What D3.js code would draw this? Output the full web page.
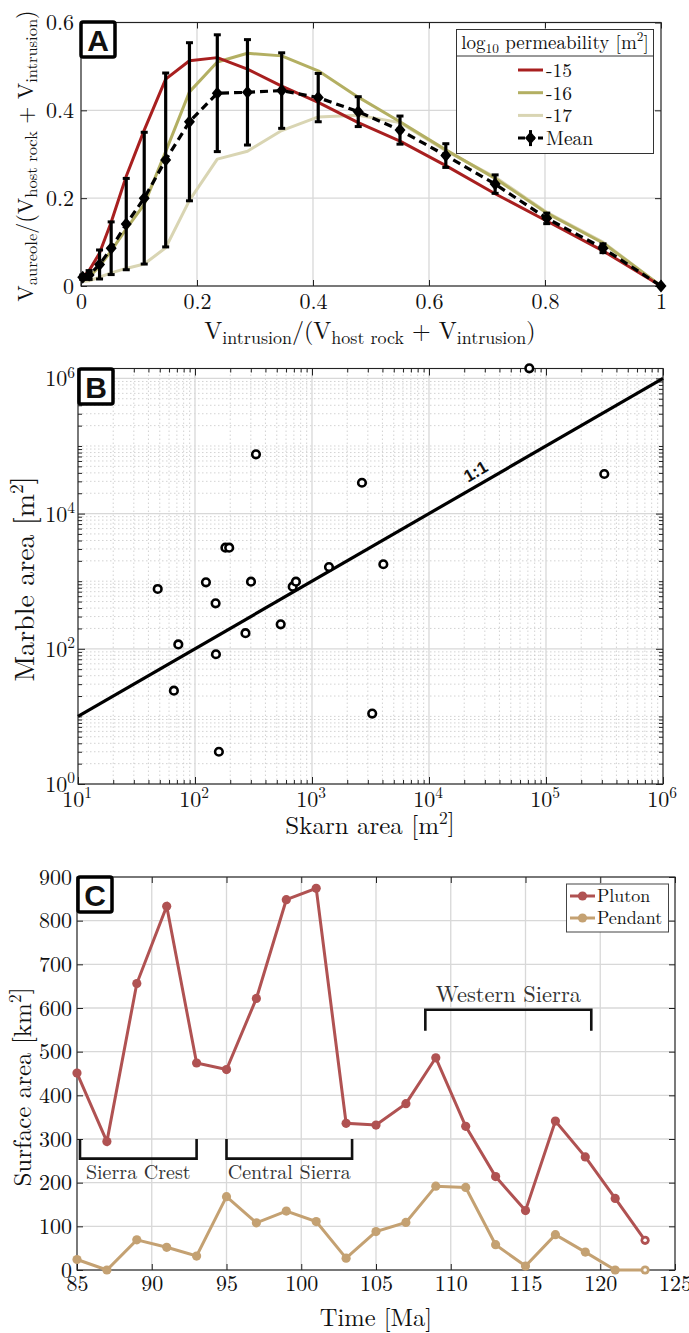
<!DOCTYPE html>
<html>
<head>
<meta charset="utf-8">
<script src="https://cdn.jsdelivr.net/npm/d3@7"></script>
<style>
body { margin: 0; background: #fff; }
svg text { font-family: "Latin Modern Roman", "Liberation Serif", serif; fill: #111; }
</style>
</head>
<body>
<svg id="fig" width="689" height="1333"></svg>
<script>
// ---- panel A data
var aX    = [0.003, 0.014, 0.032, 0.052, 0.078, 0.109, 0.146, 0.187, 0.235, 0.287, 0.346, 0.409, 0.478, 0.55, 0.629, 0.714, 0.803, 0.9, 1.0];
var aMean = [0.02, 0.025, 0.049, 0.086, 0.141, 0.2, 0.287, 0.374, 0.439, 0.441, 0.445, 0.429, 0.397, 0.355, 0.297, 0.232, 0.154, 0.086, 0.0];
var aErr  = [0.005, 0.01, 0.033, 0.06, 0.104, 0.15, 0.198, 0.18, 0.133, 0.12, 0.086, 0.055, 0.034, 0.032, 0.027, 0.021, 0.012, 0.01, 0];
var aK15  = [0.02, 0.035, 0.075, 0.145, 0.25, 0.355, 0.471, 0.513, 0.52, 0.494, 0.455, 0.418, 0.372, 0.33, 0.274, 0.21, 0.148, 0.08, 0];
var aK16  = [0.015, 0.02, 0.045, 0.08, 0.13, 0.186, 0.306, 0.442, 0.51, 0.53, 0.524, 0.49, 0.43, 0.374, 0.31, 0.245, 0.166, 0.098, 0];
var aK17  = [0.01, 0.012, 0.02, 0.03, 0.04, 0.05, 0.087, 0.195, 0.289, 0.307, 0.354, 0.385, 0.389, 0.372, 0.308, 0.248, 0.168, 0.1, 0];
var aLegend = ["-15", "-16", "-17", "Mean"];

// ---- panel B data
var bSkarn  = [48, 124, 150, 182, 196, 301, 332, 684, 729, 1397, 2673, 4070, 72000, 315000, 540, 270, 72, 151, 66, 3270, 160];
var bMarble = [767, 963, 471, 3130, 3130, 984, 75300, 830, 984, 1622, 28600, 1780, 1410000, 38500, 230, 170, 116, 83, 24, 11, 3];

// ---- panel C data
var cTime    = [85, 87, 89, 91, 93, 95, 97, 99, 101, 103, 105, 107, 109, 111, 113, 115, 117, 119, 121, 123];
var cPluton  = [451, 294, 656, 833, 474, 459, 622, 848, 874, 336, 332, 381, 486, 329, 214, 136, 341, 259, 164, 68];
var cPendant = [24, 0, 69, 52, 32, 168, 108, 135, 111, 27, 88, 109, 192, 189, 58, 9, 81, 41, 0, 0];
var cRanges  = [["Sierra Crest", 85.2, 93], ["Central Sierra", 95, 103.4], ["Western Sierra", 108.3, 119.4]];

var svg = d3.select("#fig");
var gridCol = "#d8d8d8";
var LM = "'Latin Modern Roman', 'Liberation Serif', serif";

function panelLabel(x0, y0, letter) {
  svg.append("rect").attr("x", x0).attr("y", y0).attr("width", 34).attr("height", 35).attr("rx", 2)
      .attr("fill", "#fff").attr("stroke", "#000").attr("stroke-width", 3.5);
  svg.append("text").attr("x", x0 + 17).attr("y", y0 + 28.5).attr("text-anchor", "middle")
      .style("font-family", "'Liberation Sans', Arial, sans-serif").style("font-weight", "bold")
      .style("font-size", "30px").text(letter);
}

// builds text from pieces [str, "sub"|"sup"|null, dy]
function richText(sel, parts, size, ratio) {
  ratio = ratio || 0.7;
  parts.forEach(function(p) {
    var t = sel.append("tspan").text(p[0]);
    if (p[1] == "sub") t.style("font-size", (size * ratio) + "px").attr("dy", size * 0.2);
    else if (p[1] == "sup") t.style("font-size", (size * 0.7) + "px").attr("dy", -size * 0.4);
    if (p[2]) t.attr("dy", p[2]);
  });
  return sel;
}

function frame(g, x0, x1, y0, y1) {
  g.append("rect").attr("x", x0).attr("y", y1).attr("width", x1 - x0).attr("height", y0 - y1)
      .attr("fill", "none").attr("stroke", "#222").attr("stroke-width", 1.1);
}

// =================== A ===================
(function() {
  var x = d3.scaleLinear().domain([0, 1]).range([81, 661]);
  var y = d3.scaleLinear().domain([0, 0.6]).range([286, 22.5]);
  var g = svg.append("g");
  var xt = x.ticks(5), yt = y.ticks(3);

  g.selectAll(".gx").data(xt).enter().append("line")
      .attr("x1", x).attr("x2", x).attr("y1", y(0)).attr("y2", y(0.6))
      .attr("stroke", gridCol).attr("stroke-width", 1.3);
  g.selectAll(".gy").data(yt).enter().append("line")
      .attr("y1", y).attr("y2", y).attr("x1", x(0)).attr("x2", x(1))
      .attr("stroke", gridCol).attr("stroke-width", 1.3);

  var sides = [
    [d3.axisBottom(x).tickValues(xt).tickFormat(d3.format("")), "translate(0,286)"],
    [d3.axisTop(x).tickValues(xt).tickFormat(""), "translate(0,22.5)"],
    [d3.axisLeft(y).tickValues(yt).tickFormat(d3.format("")), "translate(81,0)"],
    [d3.axisRight(y).tickValues(yt).tickFormat(""), "translate(661,0)"]
  ];
  sides.forEach(function(s) {
    var ax = g.append("g").attr("transform", s[1])
        .call(s[0].tickSizeInner(-6).tickSizeOuter(0).tickPadding(7));
    ax.select(".domain").remove();
    ax.selectAll("line").attr("stroke", "#222");
    ax.selectAll("text").style("font-size", "22px").style("font-family", LM).attr("fill", "#111");
  });
  frame(g, 81, 661, 286, 22.5);

  var line = d3.line().x(function(d, i) { return x(aX[i]); }).y(function(d) { return y(d); });
  var cols = ["#a81f1f", "#b3af62", "#d9d5b3"];
  [aK17, aK16, aK15].forEach(function(s, k) {
    g.append("path").attr("d", line(s)).attr("fill", "none")
        .attr("stroke", cols[2 - k]).attr("stroke-width", 3).attr("stroke-linejoin", "round");
  });

  g.selectAll(".eb").data(aMean).enter().append("line")
      .attr("x1", function(d, i) { return x(aX[i]); }).attr("x2", function(d, i) { return x(aX[i]); })
      .attr("y1", function(d, i) { return y(d - aErr[i]); }).attr("y2", function(d, i) { return y(d + aErr[i]); })
      .attr("stroke", "#000").attr("stroke-width", 3.2);
  [-1, 1].forEach(function(sg) {
    g.selectAll(".cap").data(aMean).enter().append("line")
        .attr("x1", function(d, i) { return x(aX[i]) - 3.5; }).attr("x2", function(d, i) { return x(aX[i]) + 3.5; })
        .attr("y1", function(d, i) { return y(d + sg * aErr[i]); }).attr("y2", function(d, i) { return y(d + sg * aErr[i]); })
        .attr("stroke", "#000").attr("stroke-width", 3);
  });
  g.append("path").attr("d", line(aMean)).attr("fill", "none")
      .attr("stroke", "#000").attr("stroke-width", 3.2).attr("stroke-dasharray", "8,5");
  var dia = "M0,-6.5L5.5,0L0,6.5L-5.5,0Z";
  g.selectAll(".dm").data(aMean).enter().append("path").attr("d", dia)
      .attr("transform", function(d, i) { return "translate(" + x(aX[i]) + "," + y(d) + ")"; })
      .attr("fill", "#000");

  // legend
  var lg = g.append("g");
  lg.append("rect").attr("x", 456.5).attr("y", 29.5).attr("width", 197).attr("height", 124)
      .attr("fill", "#fff").attr("stroke", "#333").attr("stroke-width", 1);
  lg.append("line").attr("x1", 456.5).attr("x2", 653.5).attr("y1", 56).attr("y2", 56).attr("stroke", "#333");
  richText(lg.append("text").attr("x", 555).attr("y", 49).attr("text-anchor", "middle").style("font-size", "19px"),
      [["log"], ["10", "sub"], [" permeability [m", null, -3.8], ["2", "sup"], ["]", null, 7.6]], 19);
  aLegend.forEach(function(name, k) {
    var yy = 70 + k * 22.7;
    if (k < 3) {
      lg.append("line").attr("x1", 518).attr("x2", 543).attr("y1", yy).attr("y2", yy)
          .attr("stroke", cols[k]).attr("stroke-width", 3);
    } else {
      lg.append("line").attr("x1", 518).attr("x2", 543).attr("y1", yy).attr("y2", yy)
          .attr("stroke", "#000").attr("stroke-width", 3).attr("stroke-dasharray", "7,3");
      lg.append("line").attr("x1", 530.5).attr("x2", 530.5).attr("y1", yy - 8).attr("y2", yy + 8)
          .attr("stroke", "#000").attr("stroke-width", 3);
      lg.append("path").attr("d", dia).attr("transform", "translate(530.5," + yy + ")");
    }
    lg.append("text").attr("x", 546).attr("y", yy + 7).style("font-size", "19.5px").text(name);
  });

  var fs = 24, up = -fs * 0.2;
  richText(svg.append("text").attr("text-anchor", "middle").attr("x", 370).attr("y", 339).style("font-size", fs + "px"),
      [["V"], ["intrusion", "sub"], ["/(V", null, up], ["host rock", "sub"], [" + V", null, up], ["intrusion", "sub"], [")", null, up]], fs, 0.75);
  var fy = 22, upy = -fy * 0.2;
  richText(svg.append("text").attr("text-anchor", "middle")
      .attr("transform", "translate(33,156) rotate(-90)").style("font-size", fy + "px"),
      [["V"], ["aureole", "sub"], ["/(V", null, upy], ["host rock", "sub"], [" + V", null, upy], ["intrusion", "sub"], [")", null, upy]], fy, 0.75);
})();
panelLabel(81, 22, "A");

// =================== B ===================
(function() {
  var x = d3.scaleLog().domain([10, 1e6]).range([78, 663]);
  var y = d3.scaleLog().domain([1, 1.4e6]).range([784, 368.5]);
  var g = svg.append("g");
  var xMaj = [1e1, 1e2, 1e3, 1e4, 1e5, 1e6];
  var yMaj = [1e0, 1e2, 1e4, 1e6];
  var xMin = x.ticks().filter(function(d) { return xMaj.indexOf(d) < 0; });
  var yMin = y.ticks().filter(function(d) { return yMaj.indexOf(d) < 0 && d <= 1.4e6; });

  g.selectAll(".mx").data(xMin).enter().append("line")
      .attr("x1", x).attr("x2", x).attr("y1", 784).attr("y2", 368.5)
      .attr("stroke", "#c8c8c8").attr("stroke-width", 0.8).attr("stroke-dasharray", "1.5,2.5");
  g.selectAll(".my").data(yMin).enter().append("line")
      .attr("y1", y).attr("y2", y).attr("x1", 78).attr("x2", 663)
      .attr("stroke", "#c8c8c8").attr("stroke-width", 0.8).attr("stroke-dasharray", "1.5,2.5");
  g.selectAll(".gx").data(xMaj).enter().append("line")
      .attr("x1", x).attr("x2", x).attr("y1", 784).attr("y2", 368.5)
      .attr("stroke", gridCol).attr("stroke-width", 1.3);
  g.selectAll(".gy").data(yMaj).enter().append("line")
      .attr("y1", y).attr("y2", y).attr("x1", 78).attr("x2", 663)
      .attr("stroke", gridCol).attr("stroke-width", 1.3);

  var sides = [
    [d3.axisBottom(x), "translate(0,784)", xMaj, xMin],
    [d3.axisTop(x), "translate(0,368.5)", xMaj, xMin],
    [d3.axisLeft(y), "translate(78,0)", yMaj, yMin],
    [d3.axisRight(y), "translate(663,0)", yMaj, yMin]
  ];
  sides.forEach(function(s, k) {
    var maj = g.append("g").attr("transform", s[1])
        .call(s[0].tickValues(s[2]).tickFormat("").tickSizeInner(-7).tickSizeOuter(0));
    maj.select(".domain").remove();
    maj.selectAll("line").attr("stroke", "#222");
    var mn = g.append("g").attr("transform", s[1])
        .call(s[0].tickValues(s[3]).tickFormat("").tickSizeInner(-4).tickSizeOuter(0));
    mn.select(".domain").remove();
    mn.selectAll("line").attr("stroke", "#222");
  });
  frame(g, 78, 663, 784, 368.5);

  xMaj.forEach(function(v) {
    richText(g.append("text").attr("x", x(v) - 1).attr("y", 807).attr("text-anchor", "middle").style("font-size", "22px"),
        [["10"], [String(Math.round(Math.log10(v))), "sup"]], 22);
  });
  yMaj.forEach(function(v) {
    richText(g.append("text").attr("x", 75).attr("y", y(v) + 8).attr("text-anchor", "end").style("font-size", "22px"),
        [["10"], [String(Math.round(Math.log10(v))), "sup"]], 22);
  });

  g.append("line").attr("x1", x(10)).attr("y1", y(10)).attr("x2", x(1e6)).attr("y2", y(1e6))
      .attr("stroke", "#000").attr("stroke-width", 3.2);
  var ang = Math.atan2(y(1e6) - y(10), x(1e6) - x(10)) * 180 / Math.PI;
  g.append("text").attr("transform", "translate(" + (x(2.6e4) + 1) + "," + (y(2.6e4) - 9) + ") rotate(" + ang + ")")
      .attr("text-anchor", "middle").style("font-family", "'Liberation Sans', Arial, sans-serif")
      .style("font-weight", "bold").style("font-size", "17px").text("1:1");

  g.selectAll(".pt").data(bSkarn).enter().append("circle")
      .attr("cx", function(d) { return x(d); }).attr("cy", function(d, i) { return y(bMarble[i]); })
      .attr("r", 3.8).attr("fill", "#fff").attr("stroke", "#000").attr("stroke-width", 2.6);

  richText(svg.append("text").attr("text-anchor", "middle").attr("x", 370).attr("y", 834).style("font-size", "25px"),
      [["Skarn area [m"], ["2", "sup"], ["]", null, 7]], 25);
  richText(svg.append("text").attr("text-anchor", "middle")
      .attr("transform", "translate(34,579) rotate(-90)").style("font-size", "28px"),
      [["Marble area [m"], ["2", "sup"], ["]", null, 7.8]], 28);
})();
panelLabel(79, 369, "B");

// =================== C ===================
(function() {
  var x = d3.scaleLinear().domain([85, 125]).range([77, 675]);
  var y = d3.scaleLinear().domain([0, 900]).range([1270, 877]);
  var g = svg.append("g");
  var xt = x.ticks(8), yt = y.ticks(9);

  g.selectAll(".gx").data(xt).enter().append("line")
      .attr("x1", x).attr("x2", x).attr("y1", 1270).attr("y2", 877)
      .attr("stroke", gridCol).attr("stroke-width", 1.3);
  g.selectAll(".gy").data(yt).enter().append("line")
      .attr("y1", y).attr("y2", y).attr("x1", 77).attr("x2", 675)
      .attr("stroke", gridCol).attr("stroke-width", 1.3);

  var sides = [
    [d3.axisBottom(x).tickValues(xt).tickFormat(d3.format("d")), "translate(0,1270)"],
    [d3.axisTop(x).tickValues(xt).tickFormat(""), "translate(0,877)"],
    [d3.axisLeft(y).tickValues(yt).tickFormat(d3.format("d")), "translate(77,0)"],
    [d3.axisRight(y).tickValues(yt).tickFormat(""), "translate(675,0)"]
  ];
  sides.forEach(function(s) {
    var ax = g.append("g").attr("transform", s[1])
        .call(s[0].tickSizeInner(-6).tickSizeOuter(0).tickPadding(5));
    ax.select(".domain").remove();
    ax.selectAll("line").attr("stroke", "#222");
    ax.selectAll("text").style("font-size", "22px").style("font-family", LM).attr("fill", "#111");
  });
  frame(g, 77, 675, 1270, 877);

  // range brackets
  var crest = cRanges[0], central = cRanges[1], west = cRanges[2];
  [crest, central].forEach(function(r) {
    g.append("path").attr("d", "M" + x(r[1]) + "," + y(300) + "V" + y(255) + "H" + x(r[2]) + "V" + y(300))
        .attr("fill", "none").attr("stroke", "#111").attr("stroke-width", 2.6);
    g.append("text").attr("x", (x(r[1]) + x(r[2])) / 2).attr("y", y(255) + 20).attr("text-anchor", "middle")
        .style("font-size", "20px").style("fill", "#333").text(r[0]);
  });
  g.append("path").attr("d", "M" + x(west[1]) + "," + y(548) + "V" + y(596) + "H" + x(west[2]) + "V" + y(548))
      .attr("fill", "none").attr("stroke", "#111").attr("stroke-width", 2.6);
  g.append("text").attr("x", (x(west[1]) + x(west[2])) / 2).attr("y", y(596) - 8).attr("text-anchor", "middle")
      .style("font-size", "22.5px").style("fill", "#333").text(west[0]);

  var cols = ["#b05252", "#c4a172"];
  [cPendant, cPluton].forEach(function(s, k) {
    var col = cols[1 - k];
    var line = d3.line().x(function(d, i) { return x(cTime[i]); }).y(function(d) { return y(d); });
    g.append("path").attr("d", line(s)).attr("fill", "none").attr("stroke", col).attr("stroke-width", 3);
    g.selectAll(".m" + k).data(s).enter().append("circle")
        .attr("cx", function(d, i) { return x(cTime[i]); }).attr("cy", function(d) { return y(d); })
        .attr("r", 4.6).attr("fill", col);
    g.append("circle").attr("cx", x(cTime[s.length - 1])).attr("cy", y(s[s.length - 1])).attr("r", 1.8).attr("fill", "#fff");
  });

  var lg = g.append("g");
  lg.append("rect").attr("x", 566.5).attr("y", 884).attr("width", 102).attr("height", 48)
      .attr("fill", "#fff").attr("stroke", "#444").attr("stroke-width", 1);
  ["Pluton", "Pendant"].forEach(function(n, k) {
    var yy = 896 + k * 22;
    lg.append("line").attr("x1", 570).attr("x2", 595).attr("y1", yy).attr("y2", yy).attr("stroke", cols[k]).attr("stroke-width", 3);
    lg.append("circle").attr("cx", 582.5).attr("cy", yy).attr("r", 4.6).attr("fill", cols[k]);
    lg.append("text").attr("x", 597).attr("y", yy + 6).style("font-size", "18px").text(n);
  });

  svg.append("text").attr("text-anchor", "middle").attr("x", 376).attr("y", 1326).style("font-size", "24.5px").text("Time [Ma]");
  richText(svg.append("text").attr("text-anchor", "middle")
      .attr("transform", "translate(31,1087) rotate(-90)").style("font-size", "25px"),
      [["Surface area [km"], ["2", "sup"], ["]", null, 7]], 25);
})();
panelLabel(78, 877, "C");
</script>
</body>
</html>
